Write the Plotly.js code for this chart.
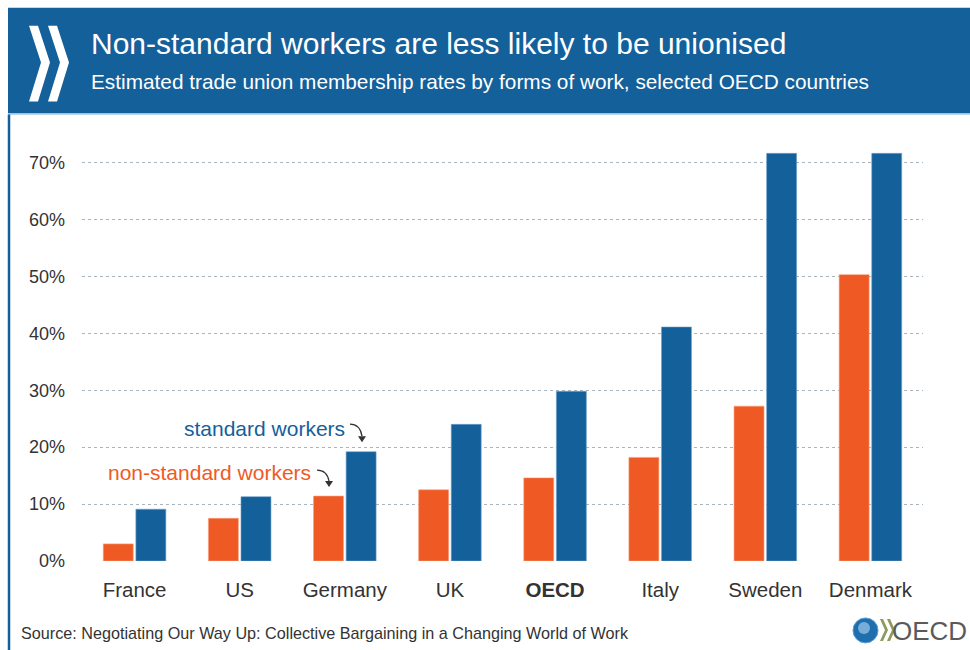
<!DOCTYPE html>
<html>
<head>
<meta charset="utf-8">
<script src="https://cdn.plot.ly/plotly-3.0.1.min.js"></script>
<style>html,body{margin:0;padding:0;background:#fff;}#chart{width:970px;height:650px;}</style>
</head>
<body>
<div id="chart"></div>
<script>
// ---- data ----
const countries = ["France", "US", "Germany", "UK", "<b>OECD</b>", "Italy", "Sweden", "Denmark"];
const nonStandard = [3.0, 7.5, 11.4, 12.5, 14.6, 18.2, 27.2, 50.3];
const standard = [9.1, 11.3, 19.2, 24.0, 29.8, 41.1, 71.6, 71.6];
const yTicks = [0, 10, 20, 30, 40, 50, 60, 70];
const titleText = "Non-standard workers are less likely to be unionised";
const subtitleText = "Estimated trade union membership rates by forms of work, selected OECD countries";
const sourceText = "Source: Negotiating Our Way Up: Collective Bargaining in a Changing World of Work";

// ---- layout geometry (pixels) ----
const W = 970, H = 650;
const L = 82, R = 923, T = 133.5, B = 561;
const px = x => (x - L) / (R - L);
const py = y => (B - y) / (B - T);

const BLUE = "#14609a";
const ORANGE = "#ef5a24";
const FONT = "Liberation Sans, Arial, sans-serif";

const traces = [
  { type: "bar", name: "non-standard workers", x: countries, y: nonStandard,
    marker: { color: ORANGE, line: { color: "#f7a07e", width: 0.6 } }, hoverinfo: "y" },
  { type: "bar", name: "standard workers", x: countries, y: standard,
    marker: { color: BLUE, line: { color: "#6fa3cc", width: 0.6 } }, hoverinfo: "y" }
];

function chevron(x0) {
  const pts = [[x0, 25], [x0 + 9, 25], [x0 + 21, 62], [x0 + 9, 101], [x0, 101], [x0 + 12, 62]];
  return "M " + pts.map(p => px(p[0]) + "," + py(p[1])).join(" L ") + " Z";
}
function smallChev(x0, y0) {
  const pts = [[x0, y0 - 11], [x0 + 3, y0 - 11], [x0 + 8, y0], [x0 + 3, y0 + 11], [x0, y0 + 11], [x0 + 5, y0]];
  return "M " + pts.map(p => px(p[0]) + "," + py(p[1])).join(" L ") + " Z";
}
function curve(x1, y1, cx, cy, x2, y2) {
  return `M ${px(x1)},${py(y1)} Q ${px(cx)},${py(cy)} ${px(x2)},${py(y2)}`;
}
function head(x, y) {
  const pts = [[x - 4, y - 6], [x + 4, y - 6], [x, y]];
  return "M " + pts.map(p => px(p[0]) + "," + py(p[1])).join(" L ") + " Z";
}

const shapes = [
  { type: "rect", xref: "paper", yref: "paper", x0: px(8), x1: px(970), y0: py(113), y1: py(7),
    fillcolor: BLUE, line: { width: 0 }, layer: "below" },
  { type: "line", xref: "paper", yref: "paper", x0: px(8), x1: px(970), y0: py(113.5), y1: py(113.5),
    line: { color: "#a9c9e2", width: 1.5 } },
  { type: "line", xref: "paper", yref: "paper", x0: px(9), x1: px(9), y0: py(114), y1: py(650),
    line: { color: BLUE, width: 2.5 } },
  { type: "path", xref: "paper", yref: "paper", path: chevron(29), fillcolor: "#ffffff", line: { width: 0 } },
  { type: "path", xref: "paper", yref: "paper", path: chevron(48), fillcolor: "#ffffff", line: { width: 0 } },
  { type: "path", xref: "paper", yref: "paper", path: curve(350, 424, 360, 424, 362, 436),
    line: { color: "#333", width: 1.3 } },
  { type: "path", xref: "paper", yref: "paper", path: head(362, 442), fillcolor: "#333", line: { width: 0 } },
  { type: "path", xref: "paper", yref: "paper", path: curve(317, 470, 327, 470, 329, 481),
    line: { color: "#333", width: 1.3 } },
  { type: "path", xref: "paper", yref: "paper", path: head(329, 487), fillcolor: "#333", line: { width: 0 } },
  { type: "circle", xref: "paper", yref: "paper", x0: px(853), x1: px(878), y0: py(643), y1: py(618),
    fillcolor: "#1f6fae", line: { color: "#5fa0d4", width: 1 } },
  { type: "circle", xref: "paper", yref: "paper", x0: px(858), x1: px(870), y0: py(634), y1: py(622),
    fillcolor: "#9cc8ea", line: { width: 0 }, opacity: 0.7 },
  { type: "path", xref: "paper", yref: "paper", path: smallChev(880, 630), fillcolor: "#8c9a5b", line: { width: 0 } },
  { type: "path", xref: "paper", yref: "paper", path: smallChev(887, 630), fillcolor: "#8c9a5b", line: { width: 0 } }
];

const annotations = [
  { xref: "paper", yref: "paper", x: px(89), y: py(43), xanchor: "left", yanchor: "middle", showarrow: false,
    text: titleText, font: { family: FONT, size: 30, color: "#ffffff" } },
  { xref: "paper", yref: "paper", x: px(89), y: py(81), xanchor: "left", yanchor: "middle", showarrow: false,
    text: subtitleText, font: { family: FONT, size: 20.8, color: "#ffffff" } },
  { xref: "paper", yref: "paper", x: px(347), y: py(428), xanchor: "right", yanchor: "middle", showarrow: false,
    text: "standard workers", font: { family: FONT, size: 21, color: BLUE } },
  { xref: "paper", yref: "paper", x: px(313), y: py(472), xanchor: "right", yanchor: "middle", showarrow: false,
    text: "non-standard workers", font: { family: FONT, size: 21, color: ORANGE } },
  { xref: "paper", yref: "paper", x: px(19), y: py(633), xanchor: "left", yanchor: "middle", showarrow: false,
    text: sourceText, font: { family: FONT, size: 16.2, color: "#333333" } },
  { xref: "paper", yref: "paper", x: px(969), y: py(631), xanchor: "right", yanchor: "middle", showarrow: false,
    text: "OECD", font: { family: FONT, size: 26, color: "#5a5a5a" } }
];

const layout = {
  width: W, height: H,
  margin: { l: L, r: W - R, t: T, b: H - B, pad: 0 },
  paper_bgcolor: "#ffffff", plot_bgcolor: "#ffffff",
  showlegend: false,
  barmode: "group", bargap: 0.38, bargroupgap: 0.08,
  font: { family: FONT, color: "#333333" },
  xaxis: {
    type: "category", showgrid: false, zeroline: false, showline: false, ticks: "",
    tickfont: { family: FONT, size: 20.5, color: "#333333" }, ticklabelstandoff: 14, fixedrange: true
  },
  yaxis: {
    range: [0, 75], tickvals: yTicks, ticktext: yTicks.map(v => v + "%"),
    showgrid: true, gridcolor: "#a9b4bd", griddash: "dot", gridwidth: 1,
    zeroline: false, showline: false, ticks: "",
    tickfont: { family: FONT, size: 18, color: "#333333" }, ticklabelstandoff: 16, fixedrange: true
  },
  shapes: shapes,
  annotations: annotations
};

Plotly.newPlot("chart", traces, layout, { displayModeBar: false, staticPlot: true });
</script>
</body>
</html>
